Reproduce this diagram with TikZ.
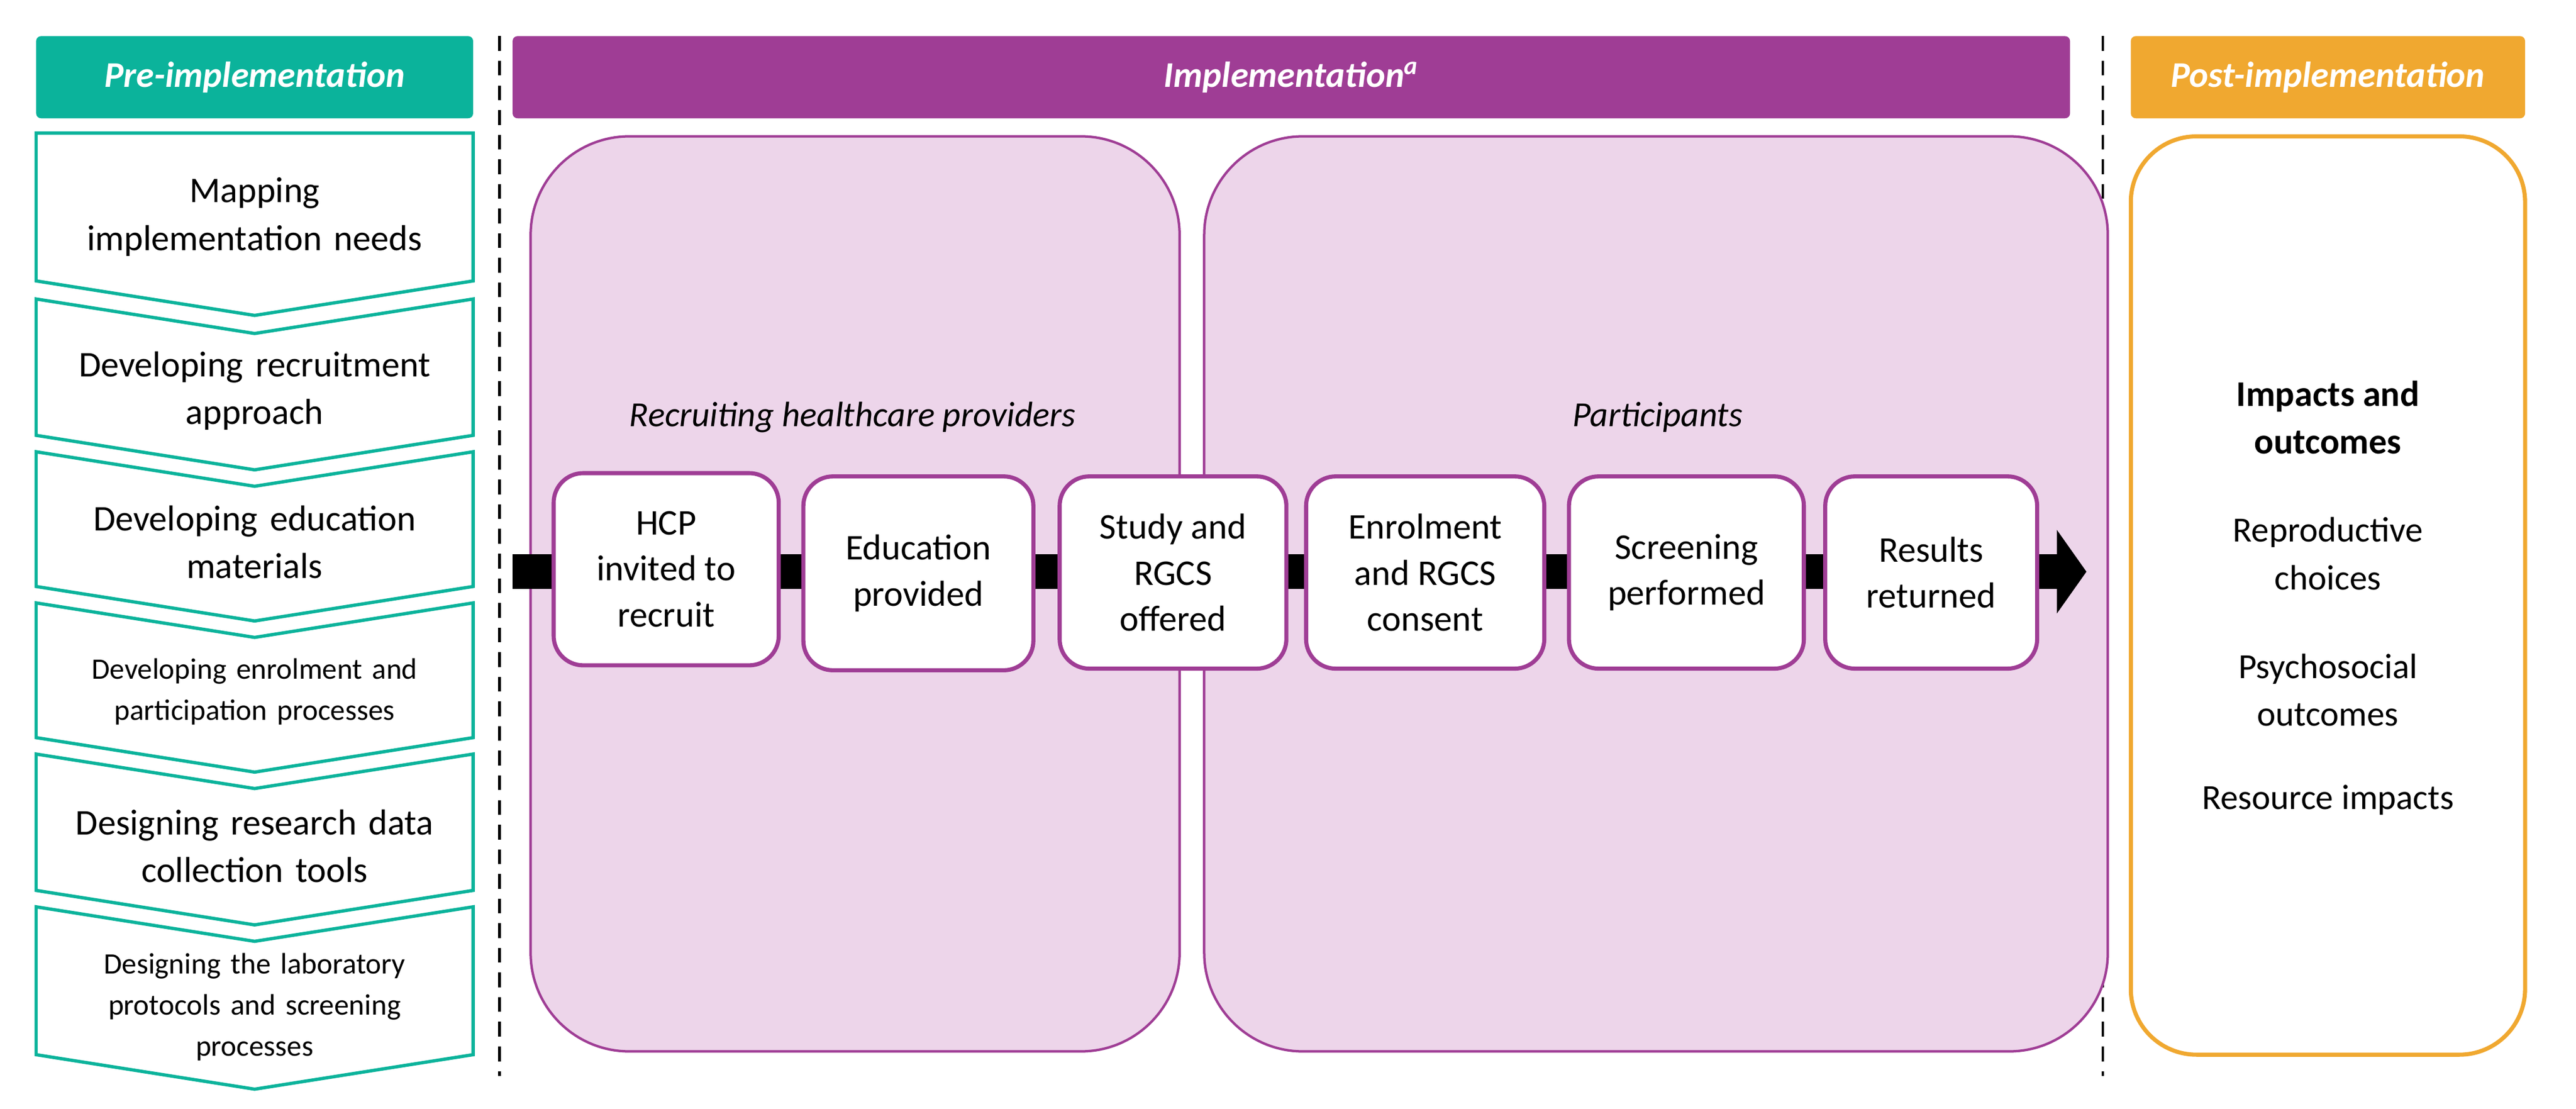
\documentclass[tikz,border=0pt]{standalone}
\usepackage{fontspec}
\setmainfont{Carlito}
\usetikzlibrary{arrows.meta}
\definecolor{tealc}{HTML}{0BB39B}
\definecolor{purp}{HTML}{9F3D95}
\definecolor{lpurp}{HTML}{EDD5EA}
\definecolor{orng}{HTML}{F0A830}
\begin{document}
\begin{tikzpicture}[x=1pt,y=-1pt,
  hdr/.style={rounded corners=3pt,text=white,font=\fontsize{22}{26}\selectfont\bfseries\itshape},
  chev/.style={draw=tealc,line width=2pt,fill=white,line join=miter},
  ctext/.style={align=center,text width=260pt,font=\fontsize{22}{29}\selectfont},
  ctsmall/.style={align=center,text width=260pt,font=\fontsize{18}{25}\selectfont},
  big/.style={draw=purp,line width=1.5pt,fill=lpurp,rounded corners=60pt},
  stepbox/.style={draw=purp,line width=2.5pt,fill=white,rounded corners=18pt,align=center,font=\fontsize{22}{28}\selectfont},
  ptxt/.style={align=center,font=\fontsize{21.5}{29}\selectfont}]
\useasboundingbox (0,0) rectangle (1568,675);
% headers
\fill[tealc,hdr] (22,22) rectangle (288,72);
\node[hdr] (hpre) at (155,47) {Pre-implementation};
\fill[purp,hdr] (312,22) rectangle (1260,72);
\node[hdr] (himp) at (786,47) {Implementation\textsuperscript{\itshape a}};
\fill[orng,hdr] (1297,22) rectangle (1537,72);
\node[hdr] (hpost) at (1417,47) {Post-implementation};
% dashed lines
\draw[line width=1.5pt,dash pattern=on 9pt off 6pt] (304,22) -- (304,655);
\draw[line width=1.5pt,dash pattern=on 9pt off 6pt] (1280,22) -- (1280,655);
% chevrons
\draw[chev] (22,81) -- (288,81) -- (288,171) -- (155,192) -- (22,171) -- cycle;
\foreach \t/\b in {182/265,275/357,367/449,459/542,552/642}{
  \draw[chev] (22,\t) -- (155,\t+21) -- (288,\t) -- (288,\b) -- (155,\b+21) -- (22,\b) -- cycle;}
\node[ctext] (c1) at (155,132) {Mapping\\implementation needs};
\node[ctext] (c2) at (155,238) {Developing recruitment\\approach};
\node[ctext] (c3) at (155,330) {Developing education\\materials};
\node[ctsmall] (c4) at (155,421) {Developing enrolment and\\participation processes};
\node[ctext] (c5) at (155,515) {Designing research data\\collection tools};
\node[ctsmall] (c6) at (155,613) {Designing the laboratory\\protocols and screening\\processes};
% big purple boxes
\draw[big] (323,83) rectangle (718,640);
\draw[big] (733,83) rectangle (1283,640);
\node[ptxt,font=\fontsize{21.5}{26}\selectfont\itshape] (l1) at (519,254) {Recruiting healthcare providers};
\node[ptxt,font=\fontsize{21.5}{26}\selectfont\itshape] (l2) at (1009,254) {Participants};
% arrow
\coordinate (as) at (312,348);
\coordinate (ae) at (1270,348);
\draw[line width=21pt,-{Triangle[width=50pt,length=18pt]}] (as) -- (ae);
% steps
\node[stepbox,minimum width=137pt,minimum height=117pt] (s1) at (405.5,346.5) {HCP\\invited to\\recruit};
\node[stepbox,minimum width=140pt,minimum height=118pt] (s2) at (559,349) {Education\\provided};
\node[stepbox,minimum width=138pt,minimum height=117pt] (s3) at (714,348.5) {Study and\\RGCS\\offered};
\node[stepbox,minimum width=145pt,minimum height=117pt] (s4) at (867.5,348.5) {Enrolment\\and RGCS\\consent};
\node[stepbox,minimum width=143pt,minimum height=117pt] (s5) at (1026.5,348.5) {Screening\\performed};
\node[stepbox,minimum width=129pt,minimum height=117pt] (s6) at (1175.5,348.5) {Results\\returned};
% post box
\draw[draw=orng,line width=2.5pt,fill=white,rounded corners=40pt] (1297,83) rectangle (1537,642);
\node[ptxt,font=\fontsize{22}{29}\selectfont\bfseries] (p0) at (1417,254) {Impacts and\\outcomes};
\node[ptxt] (p1) at (1417,337) {Reproductive\\choices};
\node[ptxt] (p2) at (1417,420) {Psychosocial\\outcomes};
\node[ptxt] (p3) at (1417,487) {Resource impacts};
\end{tikzpicture}
\end{document}
